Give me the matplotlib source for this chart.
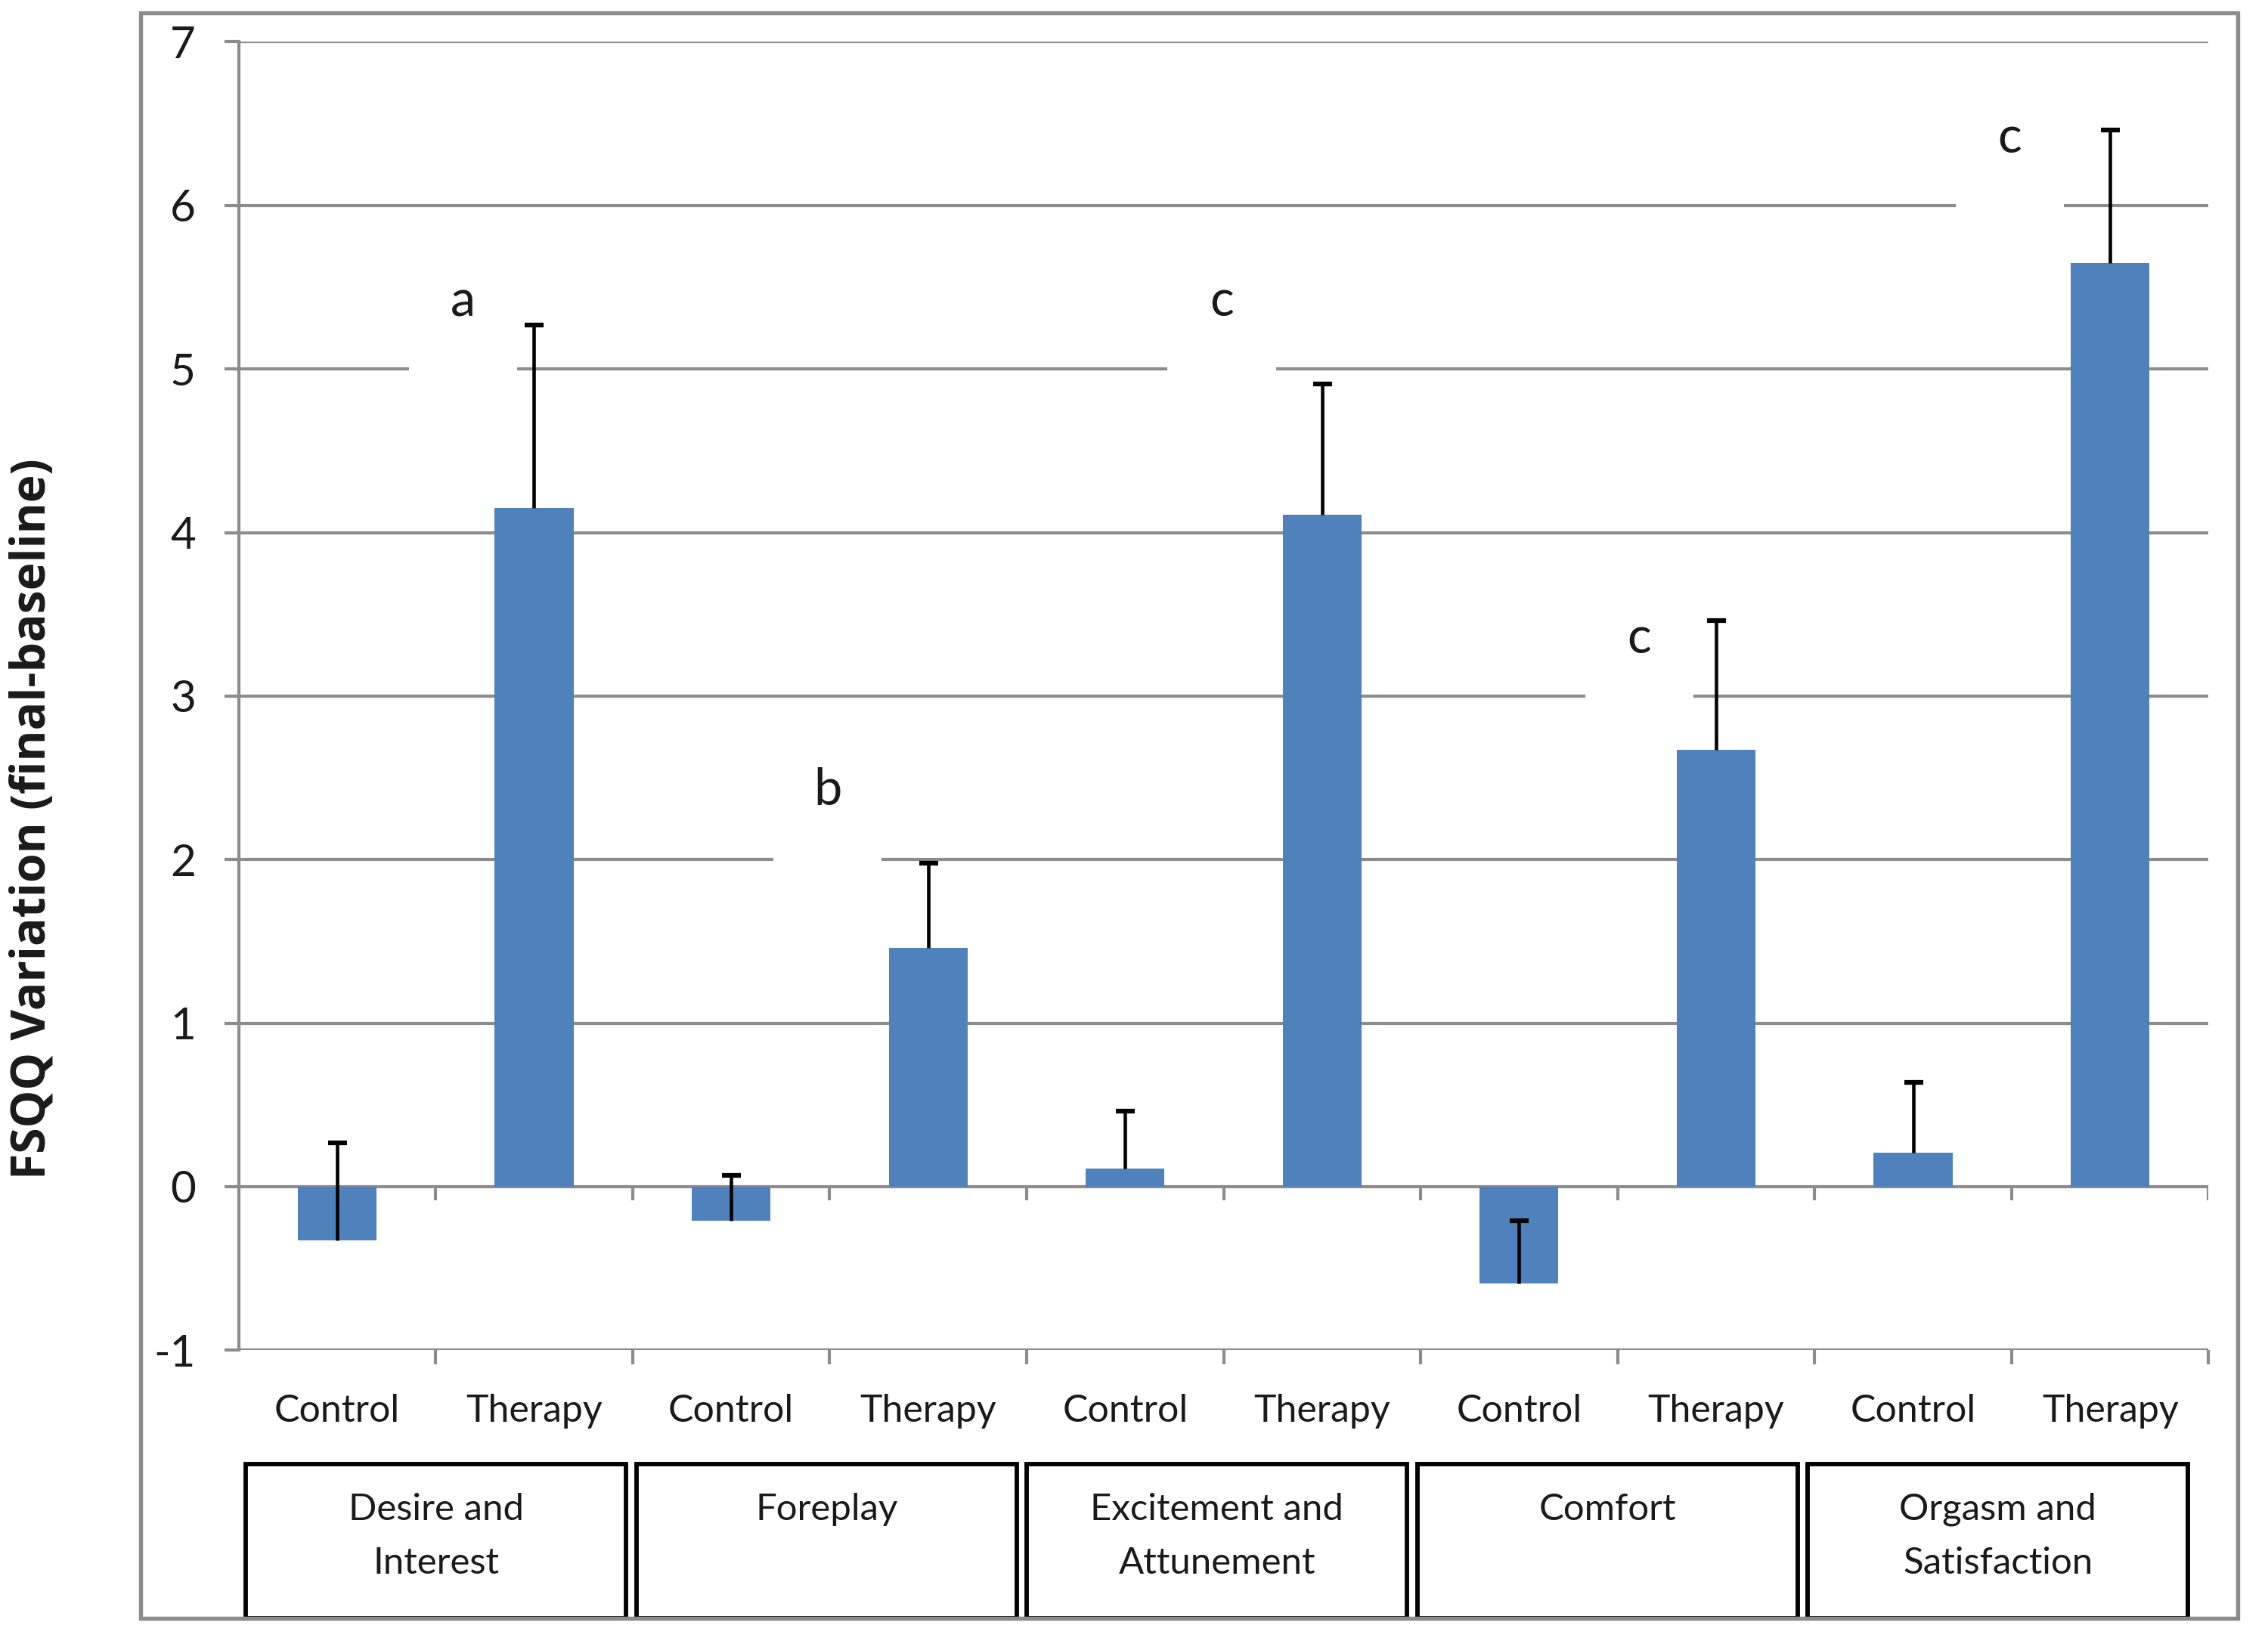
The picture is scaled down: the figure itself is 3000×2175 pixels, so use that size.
import matplotlib
matplotlib.use("Agg")
import matplotlib.pyplot as plt
from matplotlib.patches import Rectangle
import matplotlib.transforms as mtransforms
import numpy as np

# ---------------- data ----------------
domains = ["Desire and\nInterest", "Foreplay", "Excitement and\nAttunement",
           "Comfort", "Orgasm and\nSatisfaction"]
groups = ["Control", "Therapy"]
control_mean = [-0.33, -0.21, 0.11, -0.59, 0.21]
control_err = [0.60, 0.28, 0.35, 0.38, 0.43]
therapy_mean = [4.15, 1.46, 4.11, 2.67, 5.65]
therapy_err = [1.12, 0.52, 0.80, 0.79, 0.81]
sig_letters = ["a", "b", "c", "c", "c"]
sig_x = [0.64, 2.49, 4.49, 6.61, 8.49]
sig_y = [5.41, 2.42, 5.41, 3.35, 6.41]
y_ticks = [-1, 0, 1, 2, 3, 4, 5, 6, 7]
y_label = "FSQQ Variation (final-baseline)"

# ---------------- style ----------------
plt.rcParams['font.family'] = ['Lato', 'DejaVu Sans']
BAR = '#4f81bd'
GRID = '#8c8c8c'
TXT = '#1a1a1a'

fig = plt.figure(figsize=(10, 7.25), dpi=300)
ax = fig.add_axes([0.1052, 0.1787, 0.8686, 0.7958])

n = len(domains)
values = []
errs = []
labels = []
for i in range(n):
    values += [control_mean[i], therapy_mean[i]]
    errs += [control_err[i], therapy_err[i]]
    labels += groups
x = np.arange(len(values))

ax.set_xlim(-0.5, len(values) - 0.5)
ax.set_ylim(y_ticks[0], y_ticks[-1])

# gridlines
for t in y_ticks:
    ax.axhline(t, color=GRID, lw=1.0, zorder=1)

# white boxes behind significance letters (hide gridline)
for xc, yc, let in zip(sig_x, sig_y, sig_letters):
    ax.add_patch(Rectangle((xc - 0.275, yc - 0.52), 0.55, 0.75,
                           facecolor='white', edgecolor='none', zorder=1.5))
    ax.text(xc, yc, let, ha='center', va='center',
            fontsize=16, color=TXT, zorder=2)

ax.bar(x, values, width=0.4, color=BAR, zorder=2)
eb = ax.errorbar(x, values, yerr=[np.zeros(len(errs)), errs], fmt='none',
                 ecolor='black', elinewidth=1.1, capsize=3.0, capthick=1.5,
                 zorder=3)
# only the upper cap is drawn in the original
eb[1][0].set_visible(False)

# spines
for s in ['top', 'right', 'bottom']:
    ax.spines[s].set_visible(False)
ax.spines['left'].set_color(GRID)
ax.spines['left'].set_linewidth(1.0)

ax.set_yticks(y_ticks)
ax.set_yticklabels([str(t) for t in y_ticks])
ax.tick_params(axis='y', direction='out', length=4.6, width=1.0, color=GRID,
               labelsize=14, labelcolor=TXT, pad=9)

# x ticks at category boundaries on bottom line
bounds = np.arange(len(values) + 1) - 0.5
ax.set_xticks(bounds[1:])
ax.set_xticklabels([])
ax.tick_params(axis='x', direction='out', length=4.6, width=1.0, color=GRID)
# tick marks on the zero line
ax.vlines(bounds[1:], 0, -0.085, color=GRID, lw=1.0, zorder=1)

trans = mtransforms.blended_transform_factory(ax.transData, ax.transAxes)
for xi, lab in zip(x, labels):
    ax.text(xi, -0.0465, lab, transform=trans, ha='center', va='center',
            fontsize=12, color=TXT)

# category boxes
box_left0 = -0.463
box_step = 1.982
box_w = 1.931
for i in range(n):
    x0 = box_left0 + box_step * i
    ax.add_patch(Rectangle((x0, -0.2047), box_w, 0.2047 - 0.0873,
                           transform=trans, fill=False, edgecolor='black',
                           lw=1.4, clip_on=False))
    lines = domains[i].split("\n")
    for j, ln in enumerate(lines):
        ax.text(x0 + box_w / 2, -0.1216 - 0.041 * j, ln, transform=trans,
                ha='center', va='center', fontsize=11.8, color=TXT)

fig.text(0.0145, 0.5018, y_label, rotation=90, ha='center', va='center',
         fontsize=15, fontweight='bold', color=TXT,
         family=['Open Sans', 'DejaVu Sans'])

# outer frame
fig.patches.append(Rectangle((0.0619, 0.0158), 0.9247, 0.9762,
                             transform=fig.transFigure, fill=False,
                             edgecolor=GRID, lw=1.3))

fig.savefig("out.png", dpi=300, facecolor='white')
